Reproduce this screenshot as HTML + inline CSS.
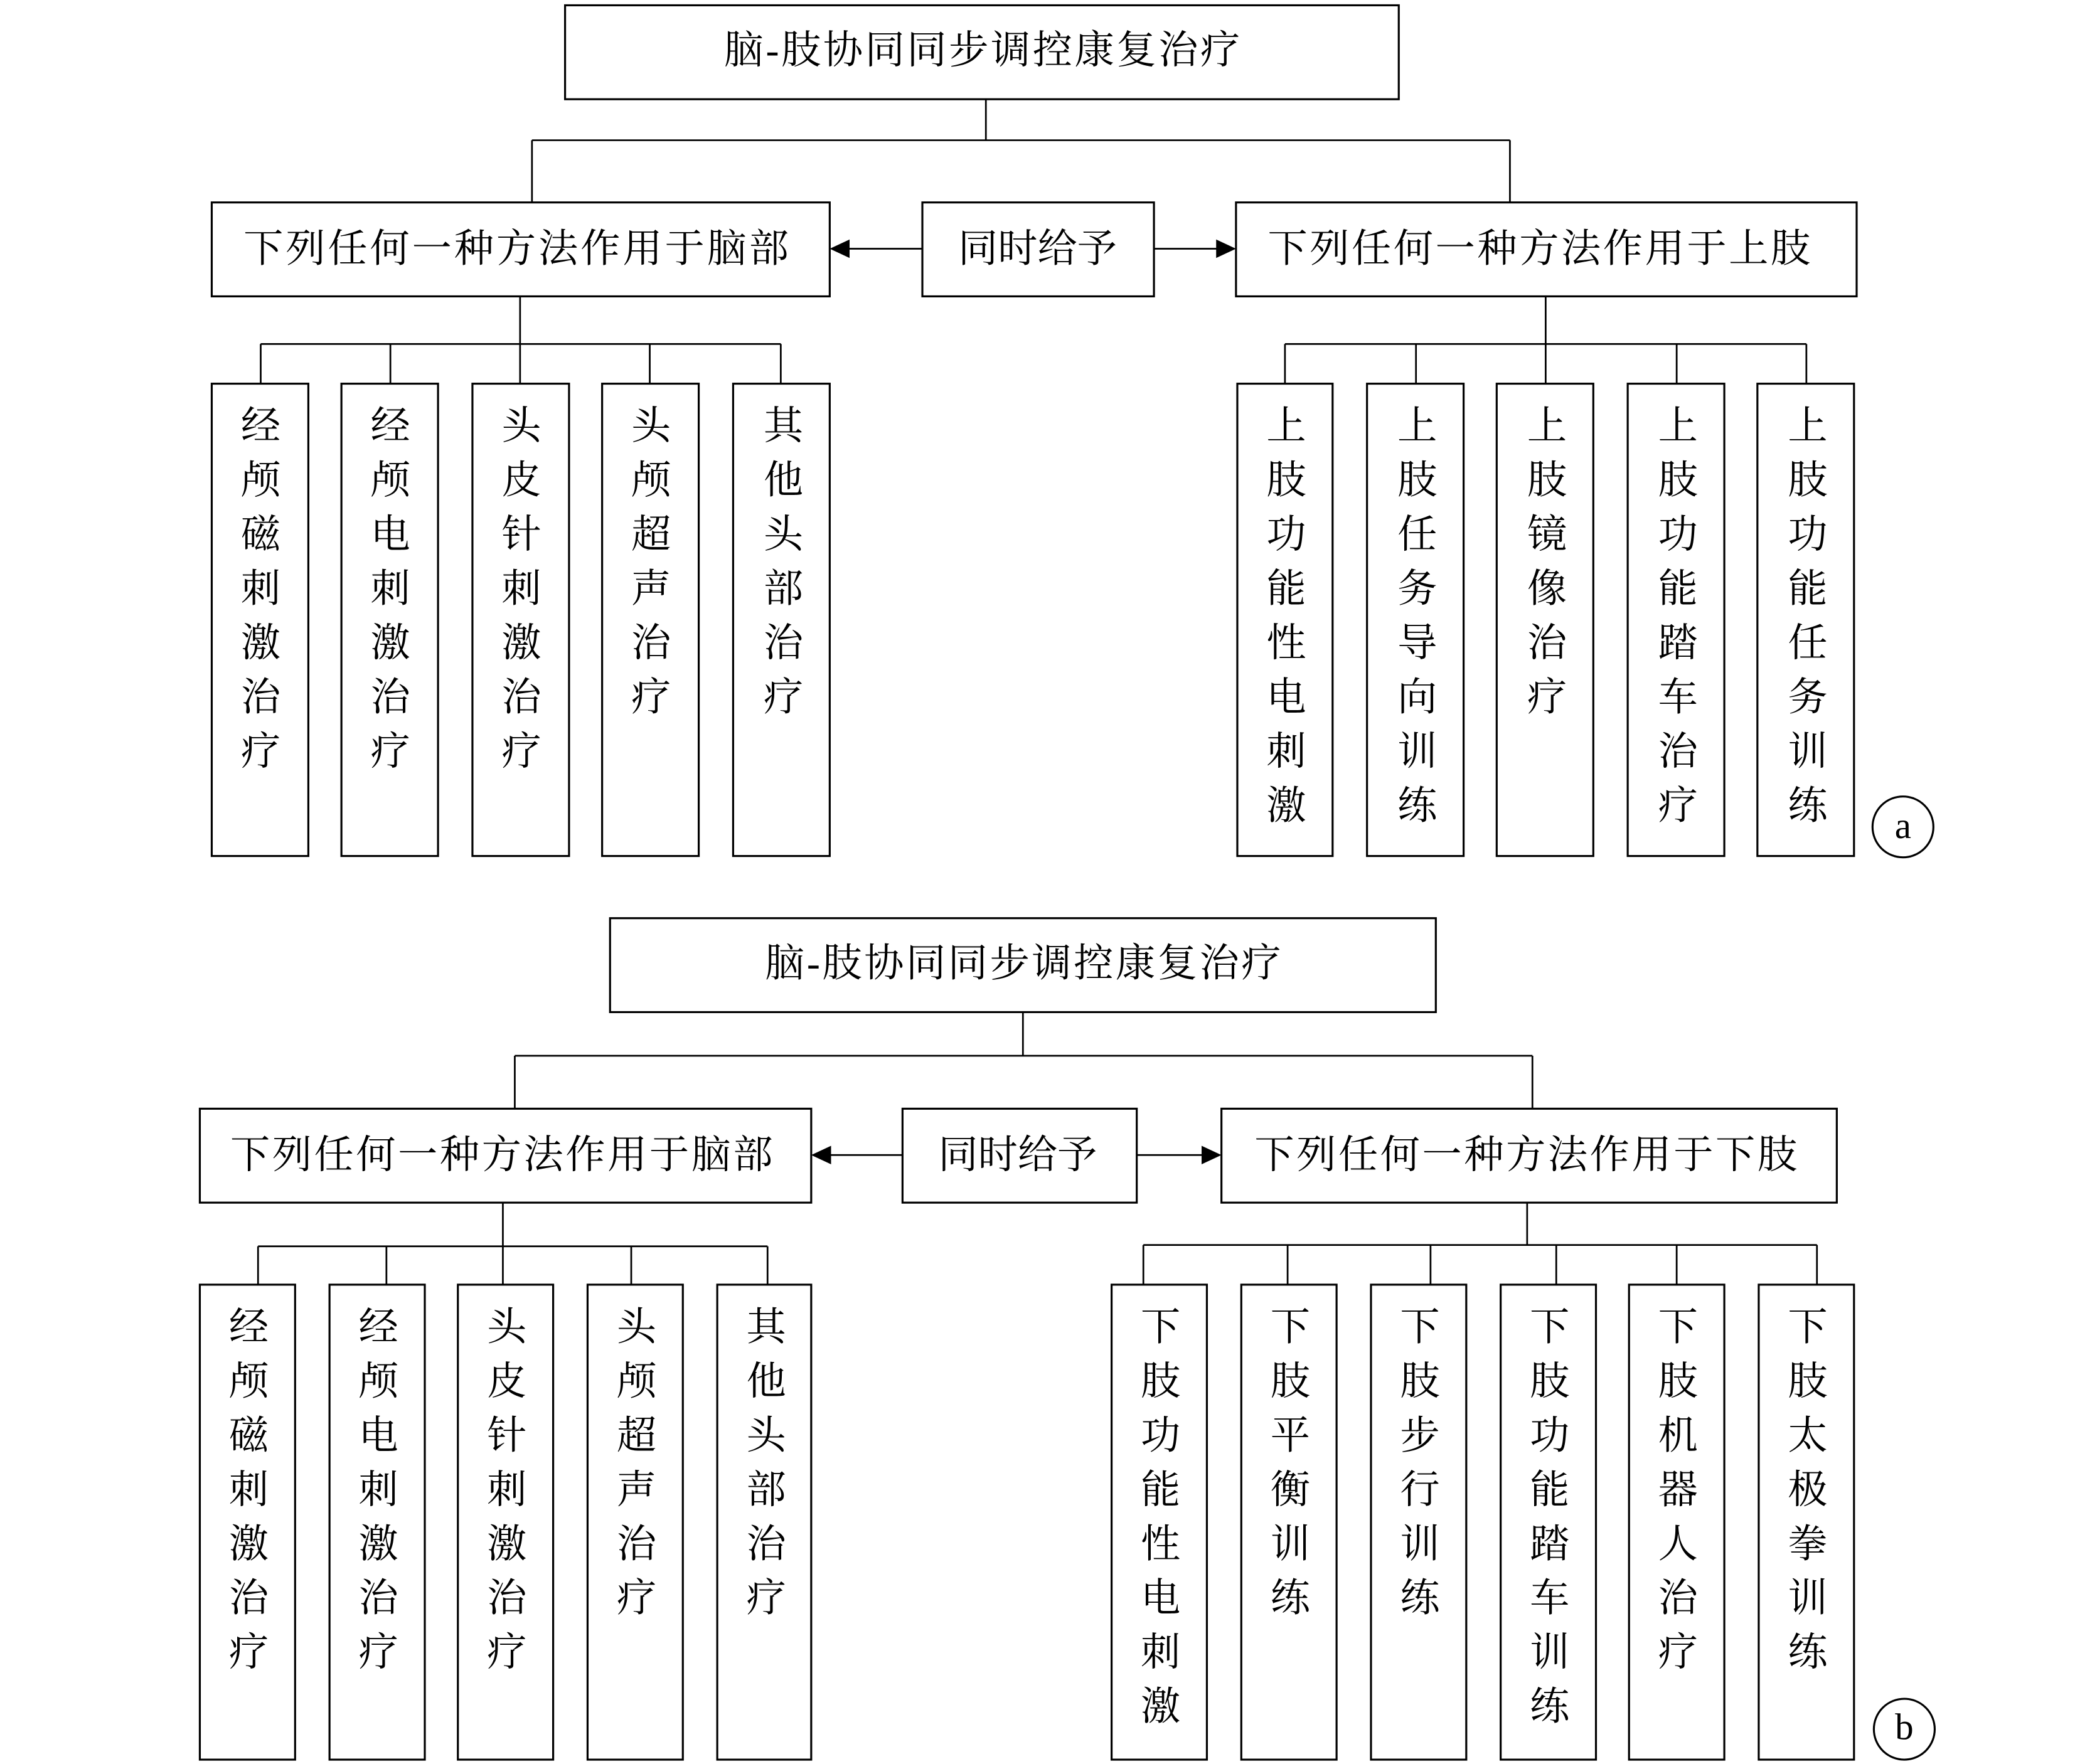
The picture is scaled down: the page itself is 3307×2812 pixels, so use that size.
<!DOCTYPE html>
<html><head><meta charset="utf-8"><style>
html,body{margin:0;padding:0;background:#fff}
svg{display:block}
text{font-family:"Liberation Serif","Noto Serif CJK SC","Noto Sans CJK SC",serif;fill:#000;font-size:30px;text-anchor:middle;dominant-baseline:central}
.b{fill:none;stroke:#000;stroke-width:1.5}
.l{stroke:#000;stroke-width:1.3;fill:none}
</style></head><body>
<svg width="3307" height="2812" viewBox="0 0 1568 1333.3" xmlns="http://www.w3.org/2000/svg">
<!-- ===== (a) ===== -->
<rect class="b" x="427" y="4" width="630" height="71"/>
<text x="742" y="38" textLength="390">脑-肢协同同步调控康复治疗</text>
<path class="l" d="M745 75V106M402 106H1141M402 106V153M1141 106V153"/>
<rect class="b" x="160" y="153" width="467" height="71"/>
<text x="390" y="188" textLength="412">下列任何一种方法作用于脑部</text>
<rect class="b" x="697" y="153" width="175" height="71"/>
<text x="784" y="188">同时给予</text>
<rect class="b" x="934" y="153" width="469" height="71"/>
<text x="1163" y="188" textLength="410">下列任何一种方法作用于上肢</text>
<path class="l" d="M697 188H640M872 188H921"/>
<polygon points="627,188 642,181 642,195"/>
<polygon points="934,188 919,181 919,195"/>
<path class="l" d="M393 224V260M197 260H590M197 260V290M295 260V290M393 260V290M491 260V290M590 260V290"/>
<path class="l" d="M1168 224V260M971 260H1365M971 260V290M1070 260V290M1168 260V290M1267 260V290M1365 260V290"/>
<rect class="b" x="160" y="290" width="73" height="357"/>
<rect class="b" x="258" y="290" width="73" height="357"/>
<rect class="b" x="357" y="290" width="73" height="357"/>
<rect class="b" x="455" y="290" width="73" height="357"/>
<rect class="b" x="554" y="290" width="73" height="357"/>
<rect class="b" x="935" y="290" width="72" height="357"/>
<rect class="b" x="1033" y="290" width="73" height="357"/>
<rect class="b" x="1131" y="290" width="73" height="357"/>
<rect class="b" x="1230" y="290" width="73" height="357"/>
<rect class="b" x="1328" y="290" width="73" height="357"/>
<text x="197" y="322"><tspan x="197" y="322">经</tspan><tspan x="197" y="363">颅</tspan><tspan x="197" y="404">磁</tspan><tspan x="197" y="445">刺</tspan><tspan x="197" y="486">激</tspan><tspan x="197" y="527">治</tspan><tspan x="197" y="568">疗</tspan></text>
<text x="295" y="322"><tspan x="295" y="322">经</tspan><tspan x="295" y="363">颅</tspan><tspan x="295" y="404">电</tspan><tspan x="295" y="445">刺</tspan><tspan x="295" y="486">激</tspan><tspan x="295" y="527">治</tspan><tspan x="295" y="568">疗</tspan></text>
<text x="394" y="322"><tspan x="394" y="322">头</tspan><tspan x="394" y="363">皮</tspan><tspan x="394" y="404">针</tspan><tspan x="394" y="445">刺</tspan><tspan x="394" y="486">激</tspan><tspan x="394" y="527">治</tspan><tspan x="394" y="568">疗</tspan></text>
<text x="492" y="322"><tspan x="492" y="322">头</tspan><tspan x="492" y="363">颅</tspan><tspan x="492" y="404">超</tspan><tspan x="492" y="445">声</tspan><tspan x="492" y="486">治</tspan><tspan x="492" y="527">疗</tspan></text>
<text x="592" y="322"><tspan x="592" y="322">其</tspan><tspan x="592" y="363">他</tspan><tspan x="592" y="404">头</tspan><tspan x="592" y="445">部</tspan><tspan x="592" y="486">治</tspan><tspan x="592" y="527">疗</tspan></text>
<text x="972" y="322"><tspan x="972" y="322">上</tspan><tspan x="972" y="363">肢</tspan><tspan x="972" y="404">功</tspan><tspan x="972" y="445">能</tspan><tspan x="972" y="486">性</tspan><tspan x="972" y="527">电</tspan><tspan x="972" y="568">刺</tspan><tspan x="972" y="609">激</tspan></text>
<text x="1071" y="322"><tspan x="1071" y="322">上</tspan><tspan x="1071" y="363">肢</tspan><tspan x="1071" y="404">任</tspan><tspan x="1071" y="445">务</tspan><tspan x="1071" y="486">导</tspan><tspan x="1071" y="527">向</tspan><tspan x="1071" y="568">训</tspan><tspan x="1071" y="609">练</tspan></text>
<text x="1169" y="322"><tspan x="1169" y="322">上</tspan><tspan x="1169" y="363">肢</tspan><tspan x="1169" y="404">镜</tspan><tspan x="1169" y="445">像</tspan><tspan x="1169" y="486">治</tspan><tspan x="1169" y="527">疗</tspan></text>
<text x="1268" y="322"><tspan x="1268" y="322">上</tspan><tspan x="1268" y="363">肢</tspan><tspan x="1268" y="404">功</tspan><tspan x="1268" y="445">能</tspan><tspan x="1268" y="486">踏</tspan><tspan x="1268" y="527">车</tspan><tspan x="1268" y="568">治</tspan><tspan x="1268" y="609">疗</tspan></text>
<text x="1366" y="322"><tspan x="1366" y="322">上</tspan><tspan x="1366" y="363">肢</tspan><tspan x="1366" y="404">功</tspan><tspan x="1366" y="445">能</tspan><tspan x="1366" y="486">任</tspan><tspan x="1366" y="527">务</tspan><tspan x="1366" y="568">训</tspan><tspan x="1366" y="609">练</tspan></text>
<circle class="b" cx="1438" cy="625" r="23"/>
<text x="1438" y="624" style="font-size:28px">a</text>
<!-- ===== (b) ===== -->
<rect class="b" x="461" y="694" width="624" height="71"/>
<text x="773" y="728" textLength="390">脑-肢协同同步调控康复治疗</text>
<path class="l" d="M773 765V798M389 798H1158M389 798V838M1158 798V838"/>
<rect class="b" x="151" y="838" width="462" height="71"/>
<text x="379" y="873" textLength="410">下列任何一种方法作用于脑部</text>
<rect class="b" x="682" y="838" width="177" height="71"/>
<text x="769" y="873">同时给予</text>
<rect class="b" x="923" y="838" width="465" height="71"/>
<text x="1153" y="873" textLength="410">下列任何一种方法作用于下肢</text>
<path class="l" d="M682 873H626M859 873H910"/>
<polygon points="613,873 628,866 628,880"/>
<polygon points="923,873 908,866 908,880"/>
<path class="l" d="M380 909V942M195 942H580M195 942V971M292 942V971M380 942V971M477 942V971M580 942V971"/>
<path class="l" d="M1154 909V941M864 941H1373M864 941V971M973 941V971M1081 941V971M1176 941V971M1267 941V971M1373 941V971"/>
<rect class="b" x="151" y="971" width="72" height="359"/>
<rect class="b" x="249" y="971" width="72" height="359"/>
<rect class="b" x="346" y="971" width="72" height="359"/>
<rect class="b" x="444" y="971" width="72" height="359"/>
<rect class="b" x="542" y="971" width="71" height="359"/>
<rect class="b" x="840" y="971" width="72" height="359"/>
<rect class="b" x="938" y="971" width="72" height="359"/>
<rect class="b" x="1036" y="971" width="72" height="359"/>
<rect class="b" x="1134" y="971" width="72" height="359"/>
<rect class="b" x="1231" y="971" width="72" height="359"/>
<rect class="b" x="1329" y="971" width="72" height="359"/>
<text x="188" y="1003"><tspan x="188" y="1003">经</tspan><tspan x="188" y="1044">颅</tspan><tspan x="188" y="1085">磁</tspan><tspan x="188" y="1126">刺</tspan><tspan x="188" y="1167">激</tspan><tspan x="188" y="1208">治</tspan><tspan x="188" y="1249">疗</tspan></text>
<text x="286" y="1003"><tspan x="286" y="1003">经</tspan><tspan x="286" y="1044">颅</tspan><tspan x="286" y="1085">电</tspan><tspan x="286" y="1126">刺</tspan><tspan x="286" y="1167">激</tspan><tspan x="286" y="1208">治</tspan><tspan x="286" y="1249">疗</tspan></text>
<text x="383" y="1003"><tspan x="383" y="1003">头</tspan><tspan x="383" y="1044">皮</tspan><tspan x="383" y="1085">针</tspan><tspan x="383" y="1126">刺</tspan><tspan x="383" y="1167">激</tspan><tspan x="383" y="1208">治</tspan><tspan x="383" y="1249">疗</tspan></text>
<text x="481" y="1003"><tspan x="481" y="1003">头</tspan><tspan x="481" y="1044">颅</tspan><tspan x="481" y="1085">超</tspan><tspan x="481" y="1126">声</tspan><tspan x="481" y="1167">治</tspan><tspan x="481" y="1208">疗</tspan></text>
<text x="579" y="1003"><tspan x="579" y="1003">其</tspan><tspan x="579" y="1044">他</tspan><tspan x="579" y="1085">头</tspan><tspan x="579" y="1126">部</tspan><tspan x="579" y="1167">治</tspan><tspan x="579" y="1208">疗</tspan></text>
<text x="877" y="1003"><tspan x="877" y="1003">下</tspan><tspan x="877" y="1044">肢</tspan><tspan x="877" y="1085">功</tspan><tspan x="877" y="1126">能</tspan><tspan x="877" y="1167">性</tspan><tspan x="877" y="1208">电</tspan><tspan x="877" y="1249">刺</tspan><tspan x="877" y="1290">激</tspan></text>
<text x="975" y="1003"><tspan x="975" y="1003">下</tspan><tspan x="975" y="1044">肢</tspan><tspan x="975" y="1085">平</tspan><tspan x="975" y="1126">衡</tspan><tspan x="975" y="1167">训</tspan><tspan x="975" y="1208">练</tspan></text>
<text x="1073" y="1003"><tspan x="1073" y="1003">下</tspan><tspan x="1073" y="1044">肢</tspan><tspan x="1073" y="1085">步</tspan><tspan x="1073" y="1126">行</tspan><tspan x="1073" y="1167">训</tspan><tspan x="1073" y="1208">练</tspan></text>
<text x="1171" y="1003"><tspan x="1171" y="1003">下</tspan><tspan x="1171" y="1044">肢</tspan><tspan x="1171" y="1085">功</tspan><tspan x="1171" y="1126">能</tspan><tspan x="1171" y="1167">踏</tspan><tspan x="1171" y="1208">车</tspan><tspan x="1171" y="1249">训</tspan><tspan x="1171" y="1290">练</tspan></text>
<text x="1268" y="1003"><tspan x="1268" y="1003">下</tspan><tspan x="1268" y="1044">肢</tspan><tspan x="1268" y="1085">机</tspan><tspan x="1268" y="1126">器</tspan><tspan x="1268" y="1167">人</tspan><tspan x="1268" y="1208">治</tspan><tspan x="1268" y="1249">疗</tspan></text>
<text x="1366" y="1003"><tspan x="1366" y="1003">下</tspan><tspan x="1366" y="1044">肢</tspan><tspan x="1366" y="1085">太</tspan><tspan x="1366" y="1126">极</tspan><tspan x="1366" y="1167">拳</tspan><tspan x="1366" y="1208">训</tspan><tspan x="1366" y="1249">练</tspan></text>
<circle class="b" cx="1439" cy="1307" r="23"/>
<text x="1439" y="1305" style="font-size:28px">b</text>
</svg>
</body></html>
